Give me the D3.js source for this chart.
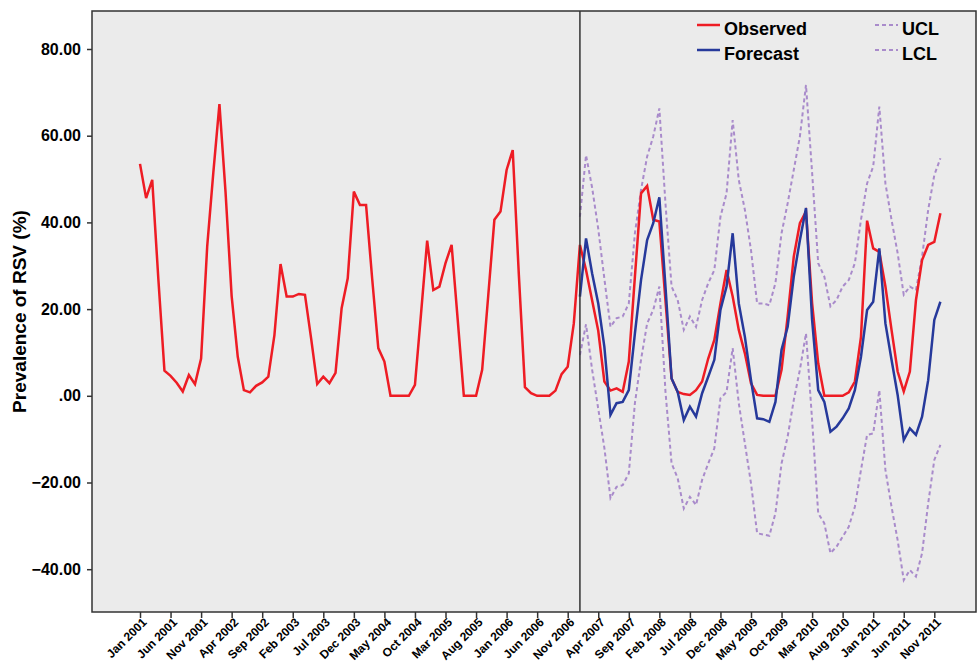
<!DOCTYPE html>
<html>
<head>
<meta charset="utf-8">
<script src="https://cdn.jsdelivr.net/npm/d3@7"></script>
<style>
  body { margin: 0; background: #fff; }
  text { font-family: "Liberation Sans", Arial, sans-serif; font-weight: bold; }
</style>
</head>
<body>
<script>
// Monthly RSV prevalence, Jan 2001 .. Dec 2011 (index 0 = Jan 2001)
const observed = [
  53.5, 45.6, 49.8, 27.0, 5.8, 4.6, 3.0, 1.0, 4.8, 2.7, 8.6, 34.5,
  51.5, 67.3, 47.0, 23.0, 9.0, 1.3, 0.8, 2.3, 3.1, 4.4, 14.0, 30.4,
  22.9, 22.9, 23.5, 23.3, 13.3, 2.7, 4.4, 2.9, 5.3, 20.2, 27.1, 47.1,
  44.0, 44.0, 27.0, 11.0, 7.9, 0, 0, 0, 0, 2.5, 19.0, 35.8,
  24.4, 25.2, 30.6, 34.8, 17.5, 0, 0, 0, 6.0, 23.2, 40.6, 42.5,
  52.1, 56.7, 28.0, 2.0, 0.6, 0, 0, 0, 1.2, 5.0, 6.7, 16.7,
  34.8, 29.0, 22.0, 15.0, 3.3, 1.2, 1.7, 0.9, 7.9, 27.5, 46.7, 48.4,
  40.6, 40.2, 22.0, 4.0, 0.9, 0.4, 0.2, 1.3, 3.3, 8.6, 12.9, 21.3,
  29.0, 22.9, 15.2, 9.8, 2.9, 0.2, 0, 0, 0, 6.0, 18.3, 32.1,
  39.8, 42.5, 21.4, 7.5, 0, 0, 0, 0, 0.8, 3.3, 13.6, 40.4,
  34.0, 33.2, 25.2, 15.2, 5.6, 1.0, 5.6, 22.1, 31.3, 34.8, 35.5, 42.1
];

// Forecast period starts Jan 2007 (index 72)
const forecastStart = 72;
const forecast = [
  22.9, 36.3, 28.2, 21.3, 11.3, -4.4, -1.7, -1.4, 1.3, 14.4, 26.7, 35.9,
  39.8, 45.8, 25.2, 4.0, 0.9, -5.6, -2.5, -4.8, 0.6, 4.4, 8.3, 19.8,
  25.2, 37.5, 21.3, 13.6, 3.6, -5.2, -5.4, -6.0, -1.4, 10.6, 15.9, 27.5,
  35.9, 43.3, 17.5, 1.3, -1.4, -8.3, -7.1, -5.2, -2.9, 1.3, 9.0, 19.8,
  21.7, 34.0, 16.7, 8.3, 0.2, -10.2, -7.5, -9.0, -4.8, 3.6, 17.5, 21.7
];
const ucl = [
  41.3, 55.5, 48.0, 38.5, 27.0, 15.9, 17.9, 18.3, 21.3, 37.5, 47.5, 55.2,
  59.8, 66.3, 44.4, 25.2, 22.1, 15.2, 18.3, 15.9, 22.1, 26.0, 29.0, 41.3,
  46.7, 63.6, 49.8, 42.9, 33.6, 21.3, 21.3, 20.9, 26.0, 37.5, 44.4, 52.1,
  59.8, 71.7, 51.5, 30.6, 27.5, 20.6, 22.1, 25.2, 26.7, 30.6, 40.6, 49.0,
  52.9, 66.7, 49.0, 40.6, 32.9, 23.3, 25.2, 24.4, 32.1, 42.9, 50.9, 54.8
];
const lcl = [
  9.4, 16.5, 6.0, -3.0, -12.0, -23.6, -21.0, -20.6, -17.9, -1.7, 8.3, 16.7,
  19.8, 25.2, 1.0, -15.6, -19.0, -26.0, -23.3, -25.2, -19.4, -15.6, -12.1, -0.6,
  0.9, 11.0, -1.7, -11.0, -20.2, -31.7, -32.0, -32.3, -27.1, -15.6, -9.4, -1.0,
  6.0, 14.4, -5.6, -27.1, -29.4, -36.3, -34.8, -32.5, -30.2, -25.6, -17.1, -9.0,
  -8.7, 1.3, -17.1, -25.6, -33.3, -42.5, -40.2, -41.7, -36.3, -24.8, -14.8, -11.3
];

// Axis ticks
const xTickMonths = d3.range(0, 131, 5);
const xTickLabels = [
  'Jan 2001', 'Jun 2001', 'Nov 2001', 'Apr 2002', 'Sep 2002', 'Feb 2003', 'Jul 2003',
  'Dec 2003', 'May 2004', 'Oct 2004', 'Mar 2005', 'Aug 2005', 'Jan 2006', 'Jun 2006',
  'Nov 2006', 'Apr 2007', 'Sep 2007', 'Feb 2008', 'Jul 2008', 'Dec 2008', 'May 2009',
  'Oct 2009', 'Mar 2010', 'Aug 2010', 'Jan 2011', 'Jun 2011', 'Nov 2011'
];
const yTicks = [-40, -20, 0, 20, 40, 60, 80];

const width = 978;
const height = 665;
const plot = { left: 92, right: 976, top: 11, bottom: 612 };

const x = d3.scaleLinear().domain([0, 130]).range([140, 934.3]);
const y = d3.scaleLinear().domain([0, 80]).range([395.8, 49]);

const svg = d3.select('body')
    .append('svg')
    .attr('width', width)
    .attr('height', height);

// Plot background
svg.append('rect')
    .attr('x', plot.left)
    .attr('y', plot.top)
    .attr('width', plot.right - plot.left)
    .attr('height', plot.bottom - plot.top)
    .attr('fill', '#ebebeb');

// Y axis
const yAxis = svg.append('g')
    .attr('transform', `translate(${plot.left},0)`)
    .call(d3.axisLeft(y)
        .tickValues(yTicks)
        .tickSize(5)
        .tickPadding(6)
        .tickFormat(d => d === 0 ? '.00' : d3.format('.2f')(d)));
yAxis.select('.domain').remove();
yAxis.selectAll('line').attr('stroke', '#333').attr('stroke-width', 1.5);
yAxis.selectAll('text')
    .style('font-size', '16px')
    .style('font-family', '"Liberation Sans", Arial, sans-serif')
    .style('font-weight', 'bold')
    .attr('fill', '#000');

// X axis
const xAxis = svg.append('g')
    .attr('transform', `translate(0,${plot.bottom})`)
    .call(d3.axisBottom(x)
        .tickValues(xTickMonths)
        .tickSize(6)
        .tickFormat((d, i) => xTickLabels[i]));
xAxis.select('.domain').remove();
xAxis.selectAll('line').attr('stroke', '#333').attr('stroke-width', 1.5);
xAxis.selectAll('text')
    .attr('x', 0)
    .attr('y', 0)
    .attr('dy', '0.35em')
    .attr('transform', 'translate(4,8) rotate(-45)')
    .style('text-anchor', 'end')
    .style('font-size', '12px')
    .style('font-family', '"Liberation Sans", Arial, sans-serif')
    .style('font-weight', 'bold')
    .attr('fill', '#000');

// Y axis title
svg.append('text')
    .attr('transform', `translate(26,${(plot.top + plot.bottom) / 2}) rotate(-90)`)
    .attr('text-anchor', 'middle')
    .style('font-size', '19px')
    .text('Prevalence of RSV (%)');

// Lines
const line = d3.line()
    .x(d => x(d.m))
    .y(d => y(d.v));

const obsPts = observed.map((v, i) => ({ m: i, v }));
const toPts = arr => arr.map((v, i) => ({ m: i + forecastStart, v }));

const purple = '#a98bcb';

svg.append('path')
    .datum(toPts(ucl))
    .attr('d', line)
    .attr('fill', 'none')
    .attr('stroke', purple)
    .attr('stroke-width', 2)
    .attr('stroke-dasharray', '4,3');

svg.append('path')
    .datum(toPts(lcl))
    .attr('d', line)
    .attr('fill', 'none')
    .attr('stroke', purple)
    .attr('stroke-width', 2)
    .attr('stroke-dasharray', '4,3');

svg.append('path')
    .datum(obsPts)
    .attr('d', line)
    .attr('fill', 'none')
    .attr('stroke', '#ee1c24')
    .attr('stroke-width', 2.5);

svg.append('path')
    .datum(toPts(forecast))
    .attr('d', line)
    .attr('fill', 'none')
    .attr('stroke', '#26399b')
    .attr('stroke-width', 2.5);

// Forecast start reference line
svg.append('line')
    .attr('x1', x(forecastStart))
    .attr('x2', x(forecastStart))
    .attr('y1', plot.top)
    .attr('y2', plot.bottom)
    .attr('stroke', '#333')
    .attr('stroke-width', 1.5);

// Frame
svg.append('rect')
    .attr('x', plot.left)
    .attr('y', plot.top)
    .attr('width', plot.right - plot.left)
    .attr('height', plot.bottom - plot.top)
    .attr('fill', 'none')
    .attr('stroke', '#333')
    .attr('stroke-width', 1.5);

// Legend
const legendItems = [
    { label: 'Observed', color: '#ee1c24', dash: null, x: 697, y: 25 },
    { label: 'Forecast', color: '#26399b', dash: null, x: 697, y: 50 },
    { label: 'UCL', color: purple, dash: '4,3', x: 875, y: 25 },
    { label: 'LCL', color: purple, dash: '4,3', x: 875, y: 50 }
];
const legend = svg.selectAll('.legend')
    .data(legendItems)
    .enter()
    .append('g')
    .attr('transform', d => `translate(${d.x},${d.y})`);
legend.append('line')
    .attr('x1', 0)
    .attr('x2', 23)
    .attr('stroke', d => d.color)
    .attr('stroke-width', d => d.dash ? 2 : 2.5)
    .attr('stroke-dasharray', d => d.dash);
legend.append('text')
    .attr('x', 27)
    .attr('y', 10)
    .style('font-size', '18px')
    .text(d => d.label);
</script>
</body>
</html>
